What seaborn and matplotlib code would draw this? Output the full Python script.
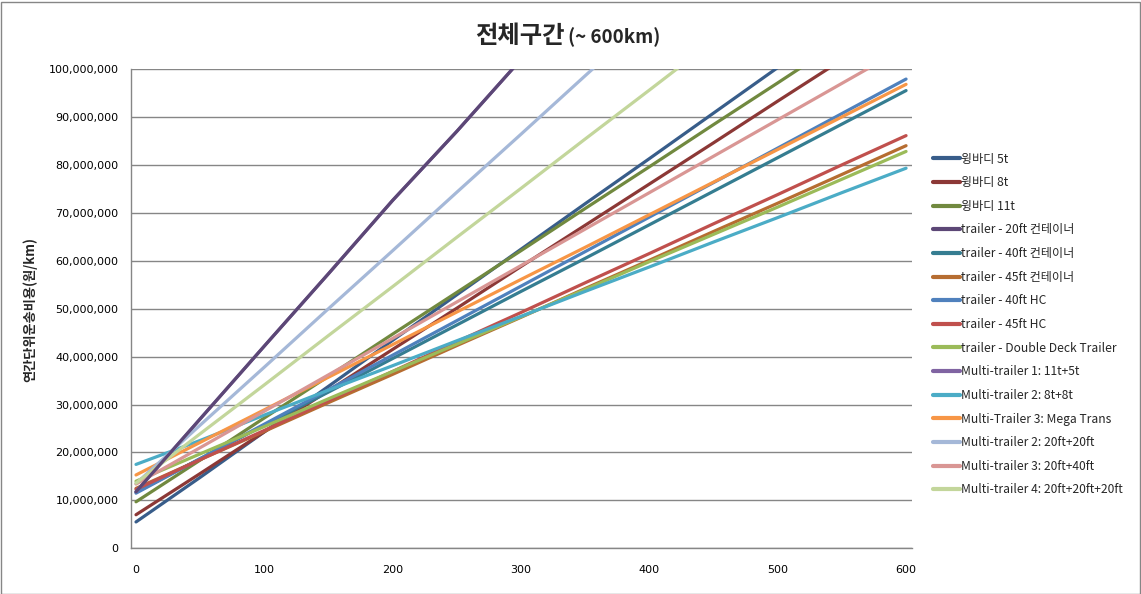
import numpy as np
import pandas as pd
import matplotlib
matplotlib.use("Agg")
import matplotlib.pyplot as plt
import matplotlib.colors as mcolors
import seaborn as sns
from matplotlib.ticker import FuncFormatter, MultipleLocator
from matplotlib.patches import Rectangle

# ---------------- data (values in million won / km) ----------------
distance_km = [0, 50, 100, 150, 200, 250, 300, 350, 400, 450, 500, 550, 600]

series_names = [
    "윙바디 5t", "윙바디 8t", "윙바디 11t",
    "trailer - 20ft 컨테이너", "trailer - 40ft 컨테이너", "trailer - 45ft 컨테이너",
    "trailer - 40ft HC", "trailer - 45ft HC", "trailer - Double Deck Trailer",
    "Multi-trailer 1: 11t+5t", "Multi-trailer 2: 8t+8t", "Multi-Trailer 3: Mega Trans",
    "Multi-trailer 2: 20ft+20ft", "Multi-trailer 3: 20ft+40ft", "Multi-trailer 4: 20ft+20ft+20ft",
]

wing_5t      = [5.5, 14.8, 24.3, 33.8, 43.4, 52.9, 62.4, 71.9, 81.3, 90.8, 100.3, 109.8, 119.3]
wing_8t      = [7.0, 15.6, 24.3, 32.9, 41.5, 50.1, 58.8, 67.4, 76.0, 84.6, 93.3, 101.9, 110.5]
wing_11t     = [9.7, 18.4, 27.2, 35.9, 44.7, 53.4, 62.1, 70.9, 79.6, 88.4, 97.1, 105.9, 114.6]
tr_20ft      = [11.8, 27.0, 42.2, 57.3, 72.6, 87.0, 102.0, 117.0, 132.0, 147.0, 162.0, 177.0, 192.0]
tr_40ft      = [11.7, 18.7, 25.7, 32.6, 39.6, 46.6, 53.6, 60.5, 67.5, 74.5, 81.5, 88.5, 95.5]
tr_45ft      = [12.5, 18.5, 24.4, 30.4, 36.3, 42.3, 48.2, 54.2, 60.1, 66.1, 72.0, 78.0, 84.0]
tr_40hc      = [11.5, 18.7, 25.9, 33.1, 40.3, 47.5, 54.7, 61.9, 69.1, 76.3, 83.5, 90.7, 97.9]
tr_45hc      = [12.3, 18.5, 24.6, 30.8, 36.9, 43.1, 49.2, 55.4, 61.5, 67.7, 73.8, 80.0, 86.1]
tr_dd        = [14.0, 19.7, 25.4, 31.2, 36.9, 42.6, 48.3, 54.0, 59.8, 65.5, 71.2, 77.0, 82.8]
multi_11_5   = [11.8, 27.0, 42.2, 57.3, 72.6, 87.0, 102.0, 117.0, 132.0, 147.0, 162.0, 177.0, 192.0]
multi_8_8    = [17.5, 22.5, 27.8, 33.0, 38.1, 43.3, 48.4, 53.6, 58.7, 63.9, 69.0, 74.2, 79.3]
multi_mega   = [15.3, 22.1, 28.9, 35.7, 42.5, 49.3, 56.1, 62.8, 69.6, 76.4, 83.2, 90.0, 96.8]
multi_20_20  = [13.5, 25.7, 37.8, 50.0, 62.1, 74.3, 86.4, 98.6, 110.7, 122.9, 135.0, 147.2, 159.3]
multi_20_40  = [13.4, 21.0, 28.6, 36.2, 43.8, 51.4, 59.0, 66.6, 74.2, 81.8, 89.4, 97.0, 104.6]
multi_20x3   = [13.6, 23.9, 34.1, 44.4, 54.6, 64.9, 75.1, 85.4, 95.6, 105.9, 116.1, 126.4, 136.6]

series_values = [wing_5t, wing_8t, wing_11t, tr_20ft, tr_40ft, tr_45ft, tr_40hc, tr_45hc,
                 tr_dd, multi_11_5, multi_8_8, multi_mega, multi_20_20, multi_20_40, multi_20x3]

colors = ["#385D8A", "#8C3836", "#71893F", "#5C4776", "#357D91", "#B66D31",
          "#4F81BD", "#C0504D", "#9BBB59", "#8064A2", "#4BACC6", "#F79646",
          "#A5B8D8", "#D99694", "#C3D69B"]

x_ticks = [0, 100, 200, 300, 400, 500, 600]

rows = []
for name, vals in zip(series_names, series_values):
    for km, v in zip(distance_km, vals):
        rows.append({"km": km, "cost": v * 1e6, "series": name})
df = pd.DataFrame(rows)

# ---------------- style ----------------
sns.set_style("white")
plt.rcParams["font.family"] = ["Noto Sans CJK KR", "DejaVu Sans"]

W, H = 1141, 594
fig = plt.figure(figsize=(W / 100, H / 100), dpi=100)
ax = fig.add_axes([131 / W, 1 - 548.3 / H, (911.7 - 131) / W, (548.3 - 69) / H])

sns.lineplot(data=df, x="km", y="cost", hue="series", hue_order=series_names,
             palette=dict(zip(series_names, colors)), linewidth=2.3, ax=ax,
             legend=True, sort=False)

# the steep dark-purple line is drawn on top
top_rgb = mcolors.to_rgb(colors[3])
for ln in ax.lines:
    if np.allclose(mcolors.to_rgb(ln.get_color()), top_rgb):
        ln.set_zorder(5)

grey = "#868686"
ax.set_xlim(-3.9, 604.4)
ax.set_ylim(0, 100e6)
ax.yaxis.set_major_locator(MultipleLocator(10e6))
ax.set_xticks(x_ticks)
ax.yaxis.set_major_formatter(FuncFormatter(lambda v, p: f"{int(round(v)):,}"))
ax.grid(axis="y", color=grey, linewidth=1)
ax.grid(axis="x", visible=False)
for s in ["top", "right"]:
    ax.spines[s].set_visible(False)
for s in ["left", "bottom"]:
    ax.spines[s].set_color(grey)
    ax.spines[s].set_linewidth(1)
ax.tick_params(axis="y", length=0, pad=9, labelcolor="black")
ax.tick_params(axis="x", length=0, pad=12, labelcolor="black")
for lab in ax.get_yticklabels() + ax.get_xticklabels():
    lab.set_family("DejaVu Sans")
    lab.set_fontsize(8)
ax.set_xlabel("")
ax.set_ylabel("")

fig.text(30 / W, 1 - 310 / H, "연간단위운송비용(원/km)", rotation=90, ha="center",
         va="center", fontsize=9.5, fontweight="bold")

fig.text(565 / W, 1 - 36 / H, "전체구간", ha="right", va="center",
         fontsize=17.5, fontweight="bold")
fig.text(568 / W, 1 - 37 / H, "(~ 600km)", ha="left", va="center",
         fontsize=13.5, fontweight="bold")

handles, labels = ax.get_legend_handles_labels()
ax.legend_.remove()
leg = fig.legend(handles, labels, loc="center left", bbox_to_anchor=(933 / W, 1 - 324.5 / H),
                 frameon=False, fontsize=8.7, handlelength=2.2, handletextpad=0.12,
                 labelspacing=0.88, borderpad=0, borderaxespad=0)
for lh in leg.get_lines():
    lh.set_linewidth(3)

fig.patches.append(Rectangle((0.5 / W, 0.5 / H), (W - 2) / W, (H - 2) / H,
                             transform=fig.transFigure, fill=False,
                             edgecolor=grey, linewidth=1))

fig.savefig("out.png", dpi=100)
